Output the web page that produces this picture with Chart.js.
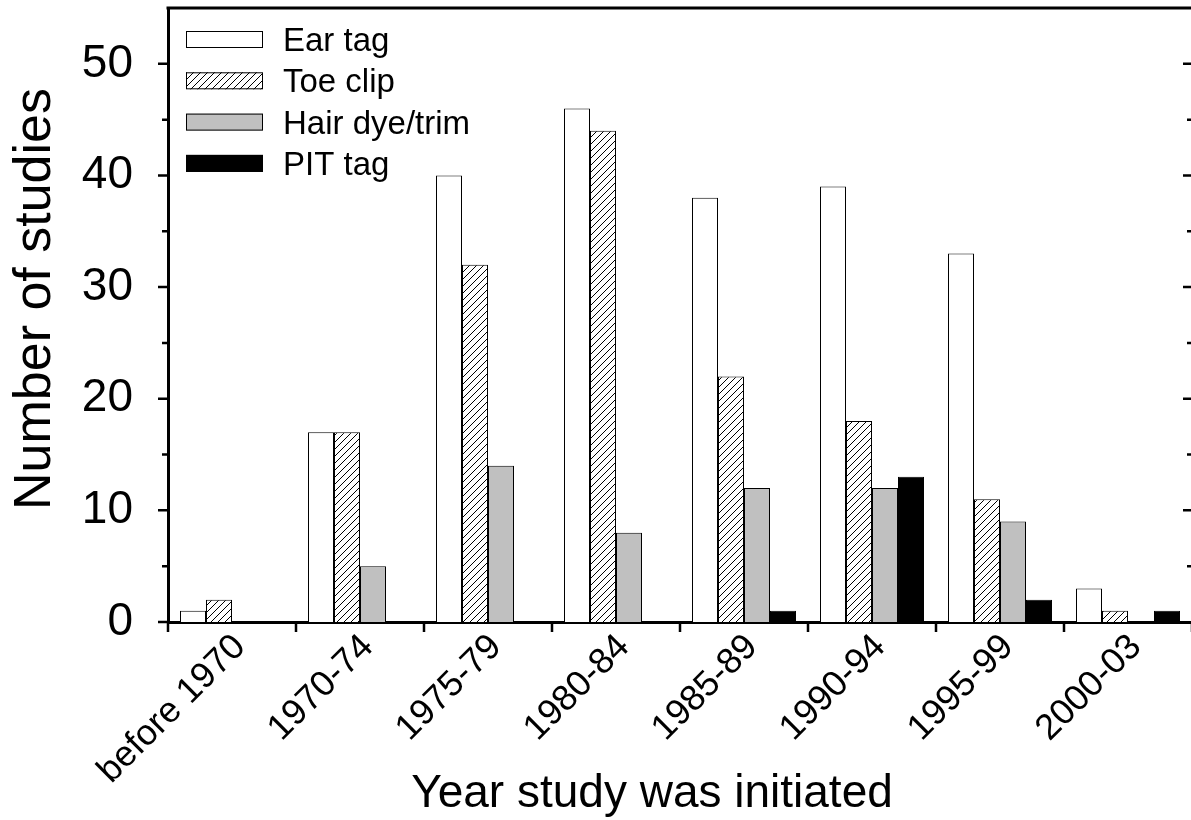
<!DOCTYPE html>
<html lang="en">
<head>
    <meta charset="UTF-8">
    <title>Marking methods by year study was initiated</title>
    <script src="https://cdn.jsdelivr.net/npm/chart.js"></script>
    <style>
        body {
            margin: 0;
            background: #fff;
            overflow: hidden;
        }
        #wrap {
            width: 1200px;
            height: 820px;
        }
    </style>
</head>
<body>
    <div id="wrap"><canvas id="chart" width="1200" height="820"></canvas></div>

    <script>
        // Data
        const categories = ['before 1970', '1970-74', '1975-79', '1980-84', '1985-89', '1990-94', '1995-99', '2000-03'];
        const earTag   = [1, 17, 40, 46, 38, 39, 33, 3];
        const toeClip  = [2, 17, 32, 44, 22, 18, 11, 1];
        const hairDye  = [0, 5, 14, 8, 12, 12, 9, 0];
        const pitTag   = [0, 0, 0, 0, 1, 13, 2, 1];
        const seriesNames = ['Ear tag', 'Toe clip', 'Hair dye/trim', 'PIT tag'];
        const yTicks = [0, 10, 20, 30, 40, 50];
        const yMax = 55;
        const xTitle = 'Year study was initiated';
        const yTitle = 'Number of studies';

        const FONT = "'Liberation Sans', Arial, Helvetica, sans-serif";

        const canvas = document.getElementById('chart');
        const ctx = canvas.getContext('2d');

        // diagonal hatch for Toe clip
        function makeHatch() {
            const c = document.createElement('canvas');
            c.width = 7;
            c.height = 7;
            const g = c.getContext('2d');
            g.fillStyle = '#fff';
            g.fillRect(0, 0, 7, 7);
            g.strokeStyle = '#000';
            g.lineWidth = 1;
            g.beginPath();
            g.moveTo(0, 7); g.lineTo(7, 0);
            g.moveTo(-1, 1); g.lineTo(1, -1);
            g.moveTo(6, 8); g.lineTo(8, 6);
            g.stroke();
            return ctx.createPattern(c, 'repeat');
        }
        const hatch = makeHatch();

        // zero bars get no outline
        const outline = c => (c.raw === 0 ? 0 : 1);

        // top line, tick marks and axis titles
        const frame = {
            id: 'frame',
            afterDraw(chart) {
                const { ctx, chartArea: a, scales: { x, y } } = chart;
                ctx.save();
                ctx.strokeStyle = '#000';
                ctx.lineWidth = 3;
                ctx.beginPath();
                ctx.moveTo(a.left - 1.5, a.top);
                ctx.lineTo(chart.width, a.top);
                ctx.stroke();

                ctx.lineWidth = 2.5;
                ctx.beginPath();
                for (let v = 0; v <= 50; v += 5) {
                    const py = y.getPixelForValue(v);
                    const major = yTicks.includes(v);
                    ctx.moveTo(a.left - (major ? 10 : 6), py);
                    ctx.lineTo(a.left, py);
                    if (v > 0) {
                        ctx.moveTo(a.right - (major ? 9 : 5), py);
                        ctx.lineTo(a.right, py);
                    }
                }
                const half = (x.getPixelForValue(1) - x.getPixelForValue(0)) / 2;
                for (let i = 0; i <= categories.length; i++) {
                    const px = x.getPixelForValue(i) - half;
                    ctx.moveTo(px, a.bottom);
                    ctx.lineTo(px, a.bottom + 10);
                }
                ctx.stroke();

                ctx.fillStyle = '#000';
                ctx.font = `46px ${FONT}`;
                ctx.textAlign = 'center';
                ctx.textBaseline = 'alphabetic';
                ctx.fillText(xTitle, 652, 807);

                ctx.translate(50, 299);
                ctx.rotate(-Math.PI / 2);
                ctx.font = `52px ${FONT}`;
                ctx.fillText(yTitle, 0, 0);
                ctx.restore();
            }
        };

        // legend inside the plot, top left
        const legendBox = {
            id: 'legendBox',
            afterDraw(chart) {
                const { ctx, chartArea: a } = chart;
                ctx.save();
                ctx.font = `33px ${FONT}`;
                ctx.textBaseline = 'alphabetic';
                chart.data.datasets.forEach((ds, i) => {
                    const top = a.top + 23 + i * 41.3;
                    const left = a.left + 18;
                    ctx.fillStyle = ds.backgroundColor;
                    ctx.fillRect(left, top, 77, 17);
                    ctx.strokeStyle = '#000';
                    ctx.lineWidth = 1;
                    ctx.strokeRect(left + 0.5, top + 0.5, 76, 16);
                    ctx.fillStyle = '#000';
                    ctx.fillText(ds.label, a.left + 115, top + 20);
                });
                ctx.restore();
            }
        };

        new Chart(ctx, {
            type: 'bar',
            data: {
                labels: categories,
                datasets: [
                    { label: seriesNames[0], data: earTag, backgroundColor: '#ffffff', borderColor: '#000', borderWidth: outline },
                    { label: seriesNames[1], data: toeClip, backgroundColor: hatch, borderColor: '#000', borderWidth: outline },
                    { label: seriesNames[2], data: hairDye, backgroundColor: '#c0c0c0', borderColor: '#000', borderWidth: outline },
                    { label: seriesNames[3], data: pitTag, backgroundColor: '#000000', borderColor: '#000', borderWidth: outline }
                ]
            },
            options: {
                responsive: false,
                animation: false,
                devicePixelRatio: 1,
                layout: { padding: { top: 8, right: 8, left: 0, bottom: 0 } },
                datasets: {
                    bar: { categoryPercentage: 0.8125, barPercentage: 1, borderSkipped: 'start' }
                },
                plugins: {
                    legend: { display: false },
                    tooltip: { enabled: false }
                },
                scales: {
                    x: {
                        grid: { display: false, drawTicks: false },
                        border: { color: '#000', width: 3 },
                        ticks: {
                            color: '#000',
                            font: { family: FONT, size: 36 },
                            minRotation: 45,
                            maxRotation: 45,
                            autoSkip: false,
                            padding: 4,
                            labelOffset: 8
                        },
                        afterFit(s) {
                            s.height = 198;
                            s.paddingLeft = 0;
                            s.paddingRight = 0;
                        }
                    },
                    y: {
                        min: 0,
                        max: yMax,
                        grid: { display: false, drawTicks: false },
                        border: { color: '#000', width: 3 },
                        ticks: {
                            stepSize: 5,
                            color: '#000',
                            font: { family: FONT, size: 46 },
                            padding: 35,
                            callback: v => yTicks.includes(v) ? v : ''
                        },
                        afterFit(s) {
                            s.width = 168;
                            s.paddingTop = 0;
                            s.paddingBottom = 0;
                        }
                    }
                }
            },
            plugins: [frame, legendBox]
        });
    </script>
</body>
</html>
